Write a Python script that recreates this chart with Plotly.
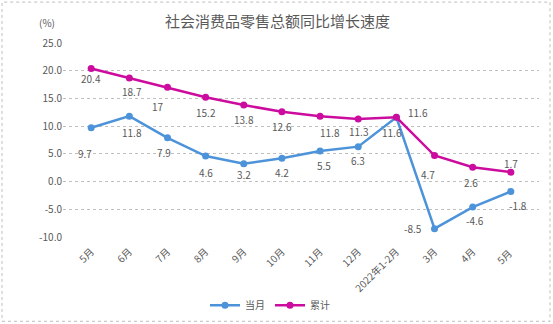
import plotly.graph_objects as go

categories = ["5月", "6月", "7月", "8月", "9月", "10月", "11月", "12月", "2022年1-2月", "3月", "4月", "5月 "]
monthly = [9.7, 11.8, 7.9, 4.6, 3.2, 4.2, 5.5, 6.3, 11.6, -8.5, -4.6, -1.8]
cumulative = [20.4, 18.7, 17, 15.2, 13.8, 12.6, 11.8, 11.3, 11.6, 4.7, 2.6, 1.7]
y_ticks = [-10, -5, 0, 5, 10, 15, 20, 25]

blue = "#4D93D9"
magenta = "#CC0C9E"
gray = "#595959"
FONT = "Noto Sans CJK SC"

# label offsets (x, y) in pixels
cum_off = [(0, -10), (3, -14), (-9, -19), (0, -15), (0, -14), (0, -15), (10, -16), (0, -13), (22, 5), (-7, -19), (-2, -15), (0, 9)]
mon_off = [(-6, -26), (3, -16), (-3, -15), (0, -16), (0, -11), (0, -14), (4, -14), (0, -14), (-4, -15), (-22, 0), (2, -13), (7, -14)]

fig = go.Figure()
fig.add_trace(go.Scatter(x=categories, y=monthly, mode="lines+markers", name="当月",
                         line=dict(color=blue, width=2.5), marker=dict(size=7, color=blue)))
fig.add_trace(go.Scatter(x=categories, y=cumulative, mode="lines+markers", name="累计",
                         line=dict(color=magenta, width=2.5), marker=dict(size=7, color=magenta)))

anns = []
for c, v, (dx, dy) in zip(categories, cumulative, cum_off):
    anns.append(dict(x=c, y=v, text=f"{v:g}", showarrow=False, xshift=dx, yshift=dy,
                     font=dict(size=10, color=gray, family=FONT)))
for c, v, (dx, dy) in zip(categories, monthly, mon_off):
    anns.append(dict(x=c, y=v, text=f"{v:g}", showarrow=False, xshift=dx, yshift=dy,
                     font=dict(size=10, color=gray, family=FONT)))
anns.append(dict(xref="paper", yref="paper", x=(47 - 63) / 476, y=(237.5 - 22) / 194.5,
                 xanchor="center", yanchor="middle",
                 text="(%)", showarrow=False, font=dict(size=10, color=gray, family=FONT)))
anns.append(dict(xref="paper", yref="paper", x=(277 - 63) / 476, y=(237.5 - 20) / 194.5,
                 xanchor="center", yanchor="middle",
                 text="社会消费品零售总额同比增长速度", showarrow=False,
                 font=dict(size=15, color=gray, family=FONT)))

fig.update_layout(
    width=553, height=324,
    margin=dict(l=63, r=14, t=43, b=86.5, autoexpand=False),
    paper_bgcolor="white", plot_bgcolor="white",
    showlegend=True,
    legend=dict(orientation="h", x=(270 - 63) / 476, xanchor="center", y=(237.5 - 306) / 194.5,
                yanchor="middle", font=dict(size=10, color=gray, family=FONT), itemwidth=30),
    annotations=anns,
    font=dict(family=FONT, color=gray),
    shapes=[dict(type="rect", xref="paper", yref="paper",
                 x0=(2 - 63) / 476, x1=(550 - 63) / 476,
                 y0=(237.5 - 322) / 194.5, y1=(237.5 - 2) / 194.5,
                 line=dict(color="#BFBFBF", width=1, dash="dot"))],
)
fig.update_xaxes(type="category", tickangle=-45, showgrid=False, showline=False, ticks="",
                 automargin=False, ticklabelstandoff=6,
                 tickfont=dict(size=10, color=gray, family=FONT))
fig.update_yaxes(range=[-10, 25], tickvals=y_ticks, ticktext=[f"{t:.1f}" for t in y_ticks],
                 showgrid=True, gridcolor="#BFBFBF", griddash="dot", gridwidth=1,
                 zeroline=False, showline=False, ticks="", automargin=False,
                 tickfont=dict(size=10, color=gray, family=FONT))

fig.write_html("out.html")
